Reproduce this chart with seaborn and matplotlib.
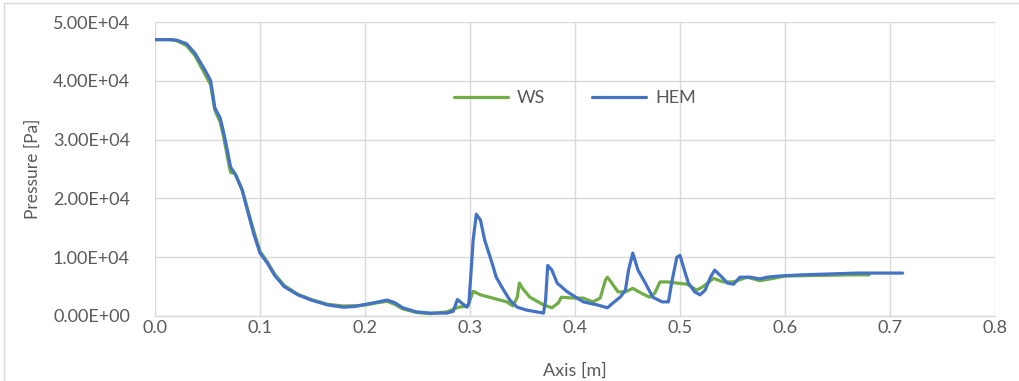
import matplotlib
matplotlib.use("Agg")
import matplotlib.pyplot as plt
import seaborn as sns
import pandas as pd
from matplotlib.lines import Line2D

hem_x = [0.0, 0.015, 0.021, 0.03, 0.038, 0.048, 0.053, 0.057, 0.062, 0.065, 0.069, 0.072, 0.077,
         0.083, 0.088, 0.094, 0.1, 0.107, 0.114, 0.123, 0.136, 0.149, 0.164, 0.179, 0.19, 0.198,
         0.21, 0.221, 0.228, 0.236, 0.249, 0.262, 0.278, 0.284, 0.288, 0.297, 0.299, 0.303, 0.306,
         0.31, 0.314, 0.321, 0.325, 0.332, 0.338, 0.345, 0.354, 0.37, 0.372, 0.374, 0.378, 0.383,
         0.392, 0.402, 0.408, 0.421, 0.431, 0.436, 0.443, 0.448, 0.451, 0.455, 0.46, 0.467, 0.474,
         0.483, 0.489, 0.492, 0.497, 0.5, 0.505, 0.508, 0.514, 0.519, 0.524, 0.529, 0.533, 0.54,
         0.545, 0.551, 0.557, 0.567, 0.576, 0.583, 0.595, 0.616, 0.669, 0.712]
hem_y = [47000, 47000, 46900, 46300, 44700, 41700, 40000, 35400, 33700, 31500, 28100, 25300, 24000,
         21400, 18000, 14000, 10700, 9000, 6900, 5000, 3600, 2700, 1900, 1500, 1600, 1900,
         2300, 2700, 2300, 1400, 700, 500, 500, 800, 2800, 1500, 2200, 12900, 17300,
         16300, 12900, 9000, 6600, 4400, 2700, 1500, 1000, 500, 2700, 8600, 7800, 5600,
         4200, 3050, 2400, 1900, 1400, 2200, 3200, 4400, 7800, 10700, 7800, 5600, 3200,
         2400, 2400, 5600, 10000, 10300, 7300, 5600, 4100, 3600, 4400, 6600, 7800, 6600,
         5600, 5400, 6600, 6600, 6300, 6600, 6800, 7000, 7300, 7300]

ws_x = [0.0, 0.015, 0.021, 0.03, 0.038, 0.048, 0.053, 0.057, 0.062, 0.065, 0.069, 0.072, 0.076,
        0.083, 0.088, 0.094, 0.1, 0.107, 0.114, 0.123, 0.136, 0.149, 0.164, 0.179, 0.198, 0.21,
        0.221, 0.228, 0.236, 0.249, 0.262, 0.278, 0.289, 0.298, 0.303, 0.31, 0.335, 0.341, 0.345,
        0.347, 0.35, 0.357, 0.37, 0.378, 0.384, 0.387, 0.398, 0.408, 0.417, 0.424, 0.429, 0.431,
        0.435, 0.441, 0.448, 0.455, 0.463, 0.471, 0.476, 0.481, 0.488, 0.497, 0.507, 0.516, 0.522,
        0.532, 0.541, 0.551, 0.564, 0.576, 0.589, 0.6, 0.665, 0.68]
ws_y = [47000, 47000, 46800, 46000, 44300, 41000, 39300, 35000, 33000, 30800, 27000, 24400, 24200,
        21500, 18300, 14500, 11000, 9200, 7100, 5200, 3700, 2800, 2000, 1700, 1800, 2200,
        2500, 2000, 1200, 600, 400, 700, 1500, 1700, 4200, 3600, 2400, 1700, 3200,
        5600, 4700, 3200, 1900, 1400, 2200, 3200, 3050, 3050, 2400, 3050, 6100, 6600,
        5600, 4100, 4100, 4700, 3900, 3200, 3900, 5800, 5800, 5600, 5400, 4400, 5000,
        6400, 5800, 5800, 6600, 6000, 6400, 6800, 7000, 7000]

x_ticks = [0.0, 0.1, 0.2, 0.3, 0.4, 0.5, 0.6, 0.7, 0.8]
y_ticks = [0, 10000, 20000, 30000, 40000, 50000]
y_tick_labels = ["0.00E+00", "1.00E+04", "2.00E+04", "3.00E+04", "4.00E+04", "5.00E+04"]

df = pd.concat([
    pd.DataFrame({"x": ws_x, "y": ws_y, "series": "WS"}),
    pd.DataFrame({"x": hem_x, "y": hem_y, "series": "HEM"}),
])

sns.set_theme(style="whitegrid", rc={"grid.color": "#d9d9d9", "grid.linewidth": 1.0})
plt.rcParams["font.family"] = ["Lato", "DejaVu Sans"]

fig = plt.figure(figsize=(10.19, 3.81), dpi=100)
ax = fig.add_axes([155/1019, 1 - 316/381, 840/1019, 294/381])

sns.lineplot(data=df, x="x", y="y", hue="series", palette={"WS": "#70AD47", "HEM": "#4472C4"},
             linewidth=2.3, ax=ax, sort=False, estimator=None)
for ln in ax.get_lines():
    ln.set_solid_joinstyle("round")
    ln.set_solid_capstyle("round")

ax.set_xlim(0, 0.8)
ax.set_ylim(0, 50000)
ax.set_xticks(x_ticks)
ax.set_xticklabels([f"{t:.1f}" for t in x_ticks])
ax.set_yticks(y_ticks)
ax.set_yticklabels(y_tick_labels)
ax.tick_params(axis="y", pad=18, labelsize=13, colors="#595959", length=0)
ax.tick_params(axis="x", pad=3, labelsize=13, colors="#595959", length=0)
for s in ["top", "right", "left"]:
    ax.spines[s].set_visible(False)
ax.spines["bottom"].set_color("#d9d9d9")
ax.spines["bottom"].set_linewidth(1.0)

ax.set_xlabel("Axis [m]", fontsize=13, color="#595959", labelpad=19)
ax.set_ylabel("Pressure [Pa]", fontsize=12.5, color="#595959", labelpad=9)

leg = ax.legend(loc="center", bbox_to_anchor=(0.5, 0.74), ncol=2, frameon=False,
                fontsize=13, handlelength=3.0, handletextpad=0.5, columnspacing=2.6)
for t in leg.get_texts():
    t.set_color("#595959")
for h in leg.get_lines():
    h.set_linewidth(2.3)

fig.add_artist(Line2D([4/1019, 4/1019], [0, 1 - 3/381], transform=fig.transFigure, color="#d9d9d9", lw=1))
fig.add_artist(Line2D([4/1019, 1], [1 - 3/381, 1 - 3/381], transform=fig.transFigure, color="#d9d9d9", lw=1))

fig.savefig("out.png", dpi=100)
